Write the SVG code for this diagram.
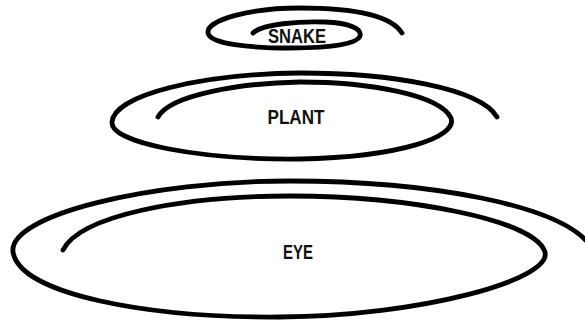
<svg xmlns="http://www.w3.org/2000/svg" width="585" height="322" viewBox="0 0 585 322">
<style>
.s{fill:none;stroke:#000;stroke-width:4.8;stroke-linecap:round;stroke-linejoin:round}
.t{font-family:"Liberation Sans",Arial,sans-serif;font-weight:bold;font-size:19.5px;fill:#111;text-anchor:middle}
</style>
<rect width="585" height="322" fill="#fff"/>
<g id="snake">
<path class="s" d="M253,33 C262,24 300,21 325,22 C350,23 362,29 360,36 C357,44 330,48 290,48 C250,48 210,44 208,33 C206,20 250,8 300,8 C350,8 390,14 402,33"/>
<text class="t" x="297" y="43" textLength="58" lengthAdjust="spacingAndGlyphs">SNAKE</text>
</g>
<g id="plant">
<path class="s" d="M158,117 C170,95 240,83 300,82 C370,82 440,95 451,118 C458,137 400,157 300,159 C200,160 110,143 112,122 C114,95 200,74 300,73 C390,73 480,88 497,117"/>
<text class="t" x="296" y="124" textLength="57" lengthAdjust="spacingAndGlyphs">PLANT</text>
</g>
<g id="eye">
<path class="s" d="M63,250 C80,216 180,196 290,196 C410,196 535,220 545,252 C552,280 420,316 280,317 C150,318 20,295 13,252 C8,215 150,181 290,181 C430,181 560,205 590,245"/>
<text class="t" x="298" y="259" textLength="30" lengthAdjust="spacingAndGlyphs">EYE</text>
</g>
</svg>
